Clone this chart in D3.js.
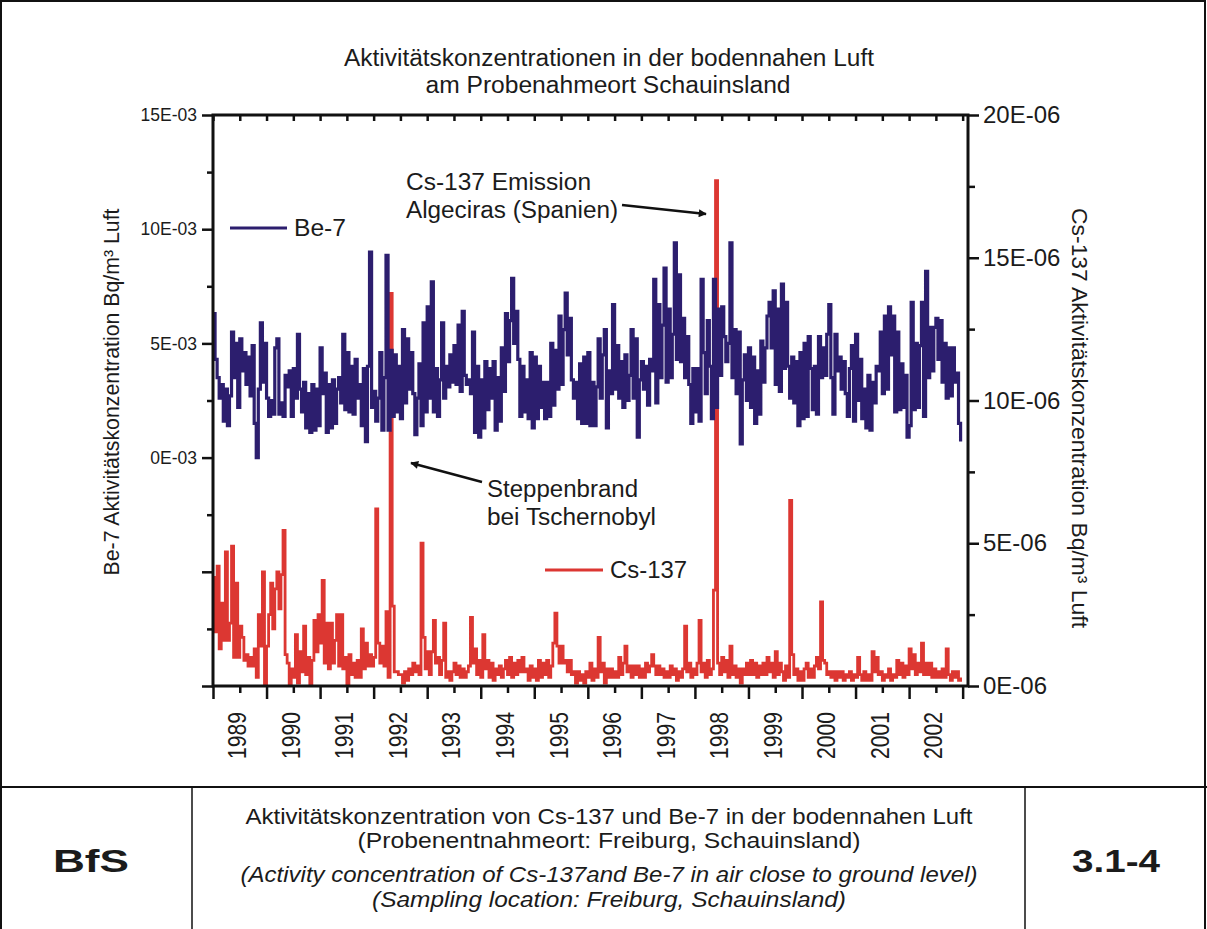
<!DOCTYPE html>
<html>
<head>
<meta charset="utf-8">
<script src="https://cdn.jsdelivr.net/npm/d3@7"></script>
<style>
  body { margin: 0; background: #fff; }
  svg { display: block; }
  text { font-family: "Liberation Sans", Arial, Helvetica, sans-serif; fill: #1b1b1b; }
</style>
</head>
<body>
<svg id="chart" width="1207" height="929"></svg>
<script>
// Sampling: two-week collection periods starting 1 January 1989
const startYear = 1989;
const samplesPerYear = 26;

// Be-7 activity concentration, unit 1E-03 Bq/m³ (one row per year, 1989 ... 2002)
const be7 = [
  6.3,4.3,3.5,2.6,3.2,1.6,3.0,1.4,2.7,5.5,3.5,5.0,2.2,5.2,3.8,4.6,3.2,4.4,2.7,4.9,1.5,0.0,3.0,5.9,3.3,5.0,
  2.6,1.8,2.5,1.9,4.8,5.2,1.9,2.4,1.8,3.6,3.1,3.8,1.8,3.9,2.6,5.4,3.0,2.0,3.3,1.3,2.8,1.1,3.2,1.2,3.0,1.4,
  4.8,2.8,3.7,1.1,3.2,1.3,3.4,1.5,3.0,3.5,2.4,5.4,2.1,4.6,2.0,4.0,1.9,4.3,2.6,3.2,1.4,3.9,0.7,4.0,9.0,2.2,
  2.9,1.6,2.6,4.6,1.2,3.5,8.85,1.2,4.7,1.8,4.5,2.0,4.0,1.7,5.6,2.4,5.2,3.0,4.6,2.8,1.0,2.6,4.1,1.4,5.9,2.0,
  6.6,2.6,7.7,2.0,3.9,1.8,3.4,5.9,2.6,4.0,3.1,4.5,3.3,4.9,3.2,5.8,2.9,6.4,3.6,3.2,3.4,2.8,5.5,1.1,4.0,0.9,
  3.4,1.3,4.2,2.1,3.9,2.6,4.2,1.2,3.5,1.6,4.8,2.9,6.3,4.2,6.0,7.85,5.0,6.4,4.3,1.8,4.0,2.0,3.4,1.7,4.6,1.3,
  4.4,1.7,4.0,2.2,3.3,1.7,3.3,1.8,5.0,2.3,4.7,3.0,6.2,3.2,5.6,7.2,4.5,6.1,3.4,2.6,3.3,1.7,4.1,1.5,4.4,1.5,
  4.6,1.4,3.3,1.4,3.1,5.2,2.6,4.5,5.6,1.3,3.8,2.8,6.7,3.0,4.9,2.6,4.2,2.2,4.5,2.5,3.6,5.6,2.6,5.2,0.9,3.4,
  4.2,3.0,4.0,2.3,4.3,3.8,7.8,2.4,6.7,3.5,5.8,8.3,3.3,6.5,3.5,5.4,9.4,4.3,8.0,4.2,6.1,3.5,5.3,3.2,1.5,3.9,
  2.0,3.9,1.6,7.8,4.6,2.8,6.0,4.0,1.7,7.8,2.2,6.5,3.6,6.6,5.3,4.2,5.0,9.4,3.5,5.6,2.8,5.5,0.6,3.4,4.5,2.5,
  4.8,2.2,4.4,1.5,3.8,1.9,5.1,3.3,4.8,6.2,6.8,4.8,7.3,3.2,6.5,2.9,7.6,3.9,6.8,4.0,2.6,4.4,2.4,4.2,1.4,4.6,
  1.7,5.0,1.8,5.3,3.9,2.1,4.0,1.9,5.3,3.5,4.8,3.6,5.4,6.7,3.5,1.9,5.4,3.8,4.4,3.0,4.2,2.8,1.8,3.9,4.9,1.6,
  5.4,2.5,4.3,1.7,3.0,1.3,3.6,1.2,3.3,2.4,4.0,3.8,5.5,2.8,6.2,3.0,6.6,4.5,6.2,2.0,5.5,2.1,4.1,2.2,3.6,0.9,
  1.4,6.8,2.1,5.0,2.2,4.9,6.8,1.8,8.15,3.5,5.7,3.8,5.7,6.1,4.3,6.0,3.3,5.0,2.6,4.8,2.7,4.8,3.3,3.7,1.5,0.7
];

// Cs-137 activity concentration, unit 1E-06 Bq/m³ (one row per year, 1989 ... 2002)
const cs137 = [
  3.8,1.9,4.2,1.3,2.9,1.6,4.7,1.6,2.2,4.9,1.0,3.6,1.0,2.1,1.7,0.9,1.1,0.7,1.0,0.7,1.3,0.3,2.5,1.4,4.0,0.05,
  1.4,2.5,3.6,2.0,3.4,4.0,2.7,3.9,5.45,1.1,0.8,0.05,0.6,0.3,1.8,0.1,1.2,0.5,2.1,0.4,1.0,0.05,0.9,2.3,1.2,2.5,
  1.5,3.7,0.8,2.2,0.6,2.2,0.8,1.6,2.5,0.7,2.5,0.6,1.0,0.05,1.1,0.4,0.8,0.3,0.9,0.3,2.0,0.6,1.5,0.7,1.1,0.7,
  1.0,6.2,1.5,0.8,1.4,0.7,2.6,0.3,13.75,2.8,0.5,0.5,0.4,0.4,0.1,0.5,0.2,0.6,0.4,0.8,0.5,0.7,0.4,5.0,1.7,0.6,
  1.2,0.4,1.2,2.3,0.8,1.0,0.4,0.9,2.2,0.3,0.5,0.2,0.5,0.8,0.4,0.7,0.3,0.6,0.3,0.5,0.7,2.4,0.8,1.3,0.4,0.9,
  0.3,1.8,0.6,0.9,0.3,0.8,0.2,0.6,0.4,0.7,0.3,0.6,0.9,0.4,1.0,0.3,0.8,0.4,0.9,0.5,1.0,0.5,0.6,0.2,0.7,0.3,
  0.6,0.2,0.9,0.3,0.8,0.4,0.9,0.3,0.7,1.5,2.55,1.4,0.8,1.4,0.8,0.9,0.5,0.9,0.4,0.5,0.1,0.5,0.2,0.4,0.1,0.5,
  0.3,0.8,0.2,0.6,0.3,1.7,0.5,0.8,0.1,0.6,0.3,0.6,0.3,0.5,0.3,1.0,0.4,0.8,1.4,0.5,0.7,0.3,0.7,0.4,0.7,0.3,
  0.6,0.3,0.8,0.5,0.7,1.1,0.7,0.4,0.7,0.4,0.6,0.3,0.5,0.3,0.7,0.4,0.6,0.2,0.5,0.3,0.6,2.1,0.5,0.8,0.3,0.6,
  0.4,0.8,2.3,0.5,0.8,0.3,0.9,0.4,0.6,3.36,17.7,0.8,0.4,1.0,0.5,0.9,0.3,1.4,0.4,0.7,0.3,0.6,0.1,0.6,0.4,0.8,
  0.4,0.9,0.4,0.8,0.3,0.7,0.4,0.8,0.4,1.0,0.5,0.8,0.3,1.2,0.4,0.8,0.5,0.2,0.7,0.3,6.5,1.1,0.4,0.6,0.2,0.5,
  0.2,0.6,0.8,0.3,0.6,0.3,0.7,1.0,0.6,2.95,0.9,0.8,0.4,0.5,0.3,0.5,0.2,0.5,0.3,0.5,0.2,0.4,0.3,0.5,0.2,0.4,
  0.3,1.0,0.4,0.2,0.5,0.2,0.4,0.2,1.2,0.5,1.0,0.4,0.5,0.2,0.4,0.3,0.6,0.2,0.4,0.3,0.9,0.4,0.8,0.3,0.7,0.4,
  1.3,0.6,1.1,0.4,0.8,0.5,1.5,0.4,0.8,0.4,0.8,0.3,0.6,0.3,0.5,0.3,0.6,0.3,1.3,0.4,0.2,0.5,0.3,0.5,0.2,0.3
];

// Year labels on the time axis
const years = [1989,1990,1991,1992,1993,1994,1995,1996,1997,1998,1999,2000,2001,2002];

// Left axis (Be-7) ticks
const beMajorTicks = [15, 10, 5, 0, -5, -10];
const beTickLabels = ["15E-03", "10E-03", "5E-03", "0E-03", "", ""];
const beMinorTicks = [12.5, 7.5, 2.5, -2.5, -7.5];

// Right axis (Cs-137) ticks
const csMajorTicks = [20, 15, 10, 5, 0];
const csTickLabels = ["20E-06", "15E-06", "10E-06", "5E-06", "0E-06"];
const csMinorTicks = [17.5, 12.5, 7.5, 2.5];

const colorBe = "#2c1e6e";
const colorCs = "#dc3732";

const svg = d3.select("#chart");
const plot = { left: 213, right: 968, top: 115, bottom: 686 };

const x = d3.scaleLinear().domain([1989, 2003.1]).range([plot.left, plot.right]);
const yBe = d3.scaleLinear().domain([-10, 15]).range([plot.bottom, plot.top]);
const yCs = d3.scaleLinear().domain([0, 20]).range([plot.bottom, plot.top]);

const toSeries = arr => arr.map((v, i) => ({ t: startYear + i / samplesPerYear, v }));

// text helper: fixed rendered width
const fit = (sel, w) => sel.attr("textLength", w).attr("lengthAdjust", "spacingAndGlyphs");

// ---------- page frame and footer table ----------
svg.append("rect").attr("x", 1).attr("y", 1).attr("width", 1204).attr("height", 940)
  .attr("fill", "none").attr("stroke", "#111").attr("stroke-width", 2);
svg.append("line").attr("x1", 0).attr("x2", 1207).attr("y1", 787).attr("y2", 787)
  .attr("stroke", "#111").attr("stroke-width", 2);
[192, 1025].forEach(px => svg.append("line").attr("x1", px).attr("x2", px).attr("y1", 787).attr("y2", 929)
  .attr("stroke", "#111").attr("stroke-width", 1.5));

// ---------- title ----------
const title = svg.append("g").attr("text-anchor", "middle");
fit(title.append("text").attr("x", 609).attr("y", 66).attr("font-size", 23.5)
  .text("Aktivitätskonzentrationen in der bodennahen Luft"), 530);
fit(title.append("text").attr("x", 608).attr("y", 93).attr("font-size", 23.5)
  .text("am Probenahmeort Schauinsland"), 365);

// ---------- data lines ----------
const lineBe = d3.line().x(d => x(d.t)).y(d => yBe(d.v)).curve(d3.curveStepAfter);
const lineCs = d3.line().x(d => x(d.t)).y(d => yCs(d.v)).curve(d3.curveStepAfter);

svg.append("path").datum(toSeries(cs137)).attr("d", lineCs)
  .attr("fill", "none").attr("stroke", colorCs).attr("stroke-width", 2.8).attr("stroke-linejoin", "miter");
svg.append("path").datum(toSeries(be7)).attr("d", lineBe)
  .attr("fill", "none").attr("stroke", colorBe).attr("stroke-width", 3.2).attr("stroke-linejoin", "miter");

// ---------- axes ----------
function styleAxis(g, width) {
  g.select(".domain").remove();
  g.selectAll(".tick line").attr("stroke", "#111").attr("stroke-width", width);
}

// left axis
const gL = svg.append("g").attr("transform", `translate(${plot.left},0)`);
gL.call(d3.axisLeft(yBe).tickValues(beMajorTicks).tickSize(11).tickPadding(5)
  .tickFormat(d => beTickLabels[beMajorTicks.indexOf(d)]));
styleAxis(gL, 2.5);
gL.selectAll(".tick text").attr("font-size", 17.5).attr("fill", "#1b1b1b");
const gLm = svg.append("g").attr("transform", `translate(${plot.left},0)`);
gLm.call(d3.axisLeft(yBe).tickValues(beMinorTicks).tickSize(6).tickFormat(""));
styleAxis(gLm, 2.5);

// right axis
const gR = svg.append("g").attr("transform", `translate(${plot.right},0)`);
gR.call(d3.axisRight(yCs).tickValues(csMajorTicks).tickSize(11).tickPadding(4)
  .tickFormat(d => csTickLabels[csMajorTicks.indexOf(d)]));
styleAxis(gR, 2.5);
gR.selectAll(".tick text").attr("font-size", 24).attr("fill", "#1b1b1b");
const gRm = svg.append("g").attr("transform", `translate(${plot.right},0)`);
gRm.call(d3.axisRight(yCs).tickValues(csMinorTicks).tickSize(7).tickFormat(""));
styleAxis(gRm, 2.5);

// bottom axis: year boundaries and mid-year labels
const yearBounds = years.concat([years[years.length - 1] + 1]);
const midYears = years.map(yr => yr + 0.5);
const gB = svg.append("g").attr("transform", `translate(0,${plot.bottom})`);
gB.call(d3.axisBottom(x).tickValues(yearBounds).tickSize(13).tickFormat(""));
styleAxis(gB, 2.5);
const gBm = svg.append("g").attr("transform", `translate(0,${plot.bottom})`);
gBm.call(d3.axisBottom(x).tickValues(midYears).tickSize(7)
  .tickFormat(d => String(years[midYears.indexOf(d)])));
styleAxis(gBm, 2.5);
gBm.selectAll(".tick text")
  .attr("transform", "rotate(-90)")
  .attr("x", -73).attr("y", -3).attr("dy", "0.36em")
  .attr("text-anchor", "start").attr("font-size", 25).attr("fill", "#1b1b1b")
  .attr("textLength", 47).attr("lengthAdjust", "spacingAndGlyphs");

// top axis: inward ticks
const gT = svg.append("g").attr("transform", `translate(0,${plot.top})`);
gT.call(d3.axisTop(x).tickValues(yearBounds.concat(midYears)).tickSize(-6).tickFormat(""));
styleAxis(gT, 2.5);

// plot frame
svg.append("rect").attr("x", plot.left).attr("y", plot.top)
  .attr("width", plot.right - plot.left).attr("height", plot.bottom - plot.top)
  .attr("fill", "none").attr("stroke", "#111").attr("stroke-width", 3);

// axis titles
fit(svg.append("text").attr("transform", "translate(119,392) rotate(-90)")
  .attr("text-anchor", "middle").attr("font-size", 22)
  .text("Be-7 Aktivitätskonzentration Bq/m³ Luft"), 367);
fit(svg.append("text").attr("transform", "translate(1072,418) rotate(90)")
  .attr("text-anchor", "middle").attr("font-size", 22)
  .text("Cs-137 Aktivitätskonzentration Bq/m³ Luft"), 420);

// ---------- legend ----------
const legend = [
  { label: "Be-7", color: colorBe, x0: 230, x1: 287, y: 228, w: 52 },
  { label: "Cs-137", color: colorCs, x0: 545, x1: 603, y: 570, w: 77 }
];
legend.forEach(l => {
  svg.append("line").attr("x1", l.x0).attr("x2", l.x1).attr("y1", l.y).attr("y2", l.y)
    .attr("stroke", l.color).attr("stroke-width", 3);
  fit(svg.append("text").attr("x", l.x1 + 7).attr("y", l.y + 8).attr("font-size", 23.5).text(l.label), l.w);
});

// ---------- annotations ----------
const defs = svg.append("defs");
defs.append("marker").attr("id", "arrowhead").attr("viewBox", "0 0 10 10")
  .attr("refX", 9).attr("refY", 5).attr("markerWidth", 4).attr("markerHeight", 3.2)
  .attr("markerUnits", "strokeWidth").attr("orient", "auto")
  .append("path").attr("d", "M0,0 L10,5 L0,10 Z").attr("fill", "#111");

const notes = [
  { lines: ["Cs-137 Emission", "Algeciras (Spanien)"], widths: [185, 212], x: 406, y: 190, from: [622, 205], to: [706, 214] },
  { lines: ["Steppenbrand", "bei Tschernobyl"], widths: [151, 169], x: 487, y: 497, from: [482, 482], to: [411, 463] }
];
notes.forEach(n => {
  n.lines.forEach((s, i) => fit(svg.append("text").attr("x", n.x).attr("y", n.y + i * 28)
    .attr("font-size", 23.5).text(s), n.widths[i]));
  svg.append("line").attr("x1", n.from[0]).attr("y1", n.from[1]).attr("x2", n.to[0]).attr("y2", n.to[1])
    .attr("stroke", "#111").attr("stroke-width", 2.5).attr("marker-end", "url(#arrowhead)");
});

// ---------- footer ----------
const footFont = '"Liberation Sans Narrow", "Arial Narrow", "Liberation Sans", Arial, sans-serif';
fit(svg.append("text").attr("x", 91).attr("y", 872).attr("text-anchor", "middle")
  .attr("font-size", 31).attr("font-weight", "bold").text("BfS"), 76);
fit(svg.append("text").attr("x", 1116).attr("y", 872).attr("text-anchor", "middle")
  .attr("font-size", 31).attr("font-weight", "bold").text("3.1-4"), 88);
const footLines = [
  { s: "Aktivitätskonzentration von Cs-137 und Be-7 in der bodennahen Luft", y: 824, w: 727, it: false },
  { s: "(Probenentnahmeort: Freiburg, Schauinsland)", y: 848, w: 503, it: false },
  { s: "(Activity concentration of Cs-137and Be-7 in air close to ground level)", y: 882, w: 737, it: true },
  { s: "(Sampling location: Freiburg, Schauinsland)", y: 907, w: 474, it: true }
];
footLines.forEach(f => fit(svg.append("text").attr("x", 609).attr("y", f.y).attr("text-anchor", "middle")
  .style("font-family", footFont).attr("font-size", 22.5)
  .attr("font-style", f.it ? "italic" : "normal").text(f.s), f.w));
</script>
</body>
</html>
